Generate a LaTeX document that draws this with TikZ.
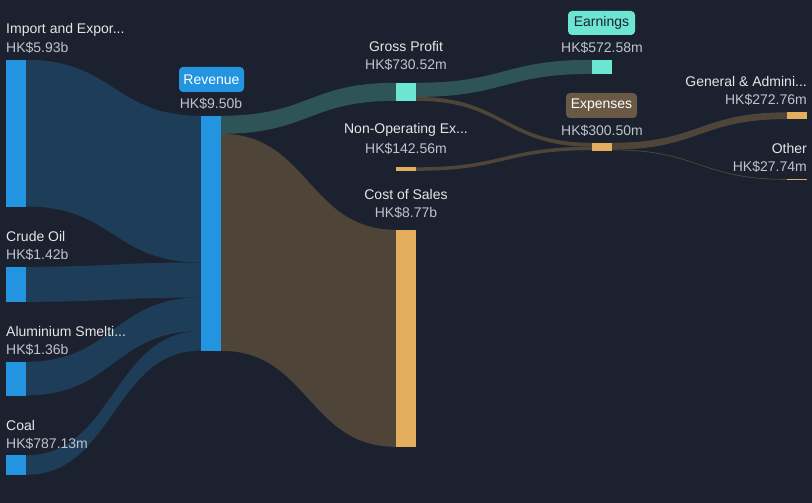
\documentclass[tikz,border=0pt]{standalone}
\usepackage{fontspec}
\setmainfont{Liberation Sans}
\usetikzlibrary{calc}
\definecolor{bg}{HTML}{1C2130}
\definecolor{bluebar}{HTML}{2394DF}
\definecolor{blueflow}{HTML}{1E3D58}
\definecolor{tealbar}{HTML}{6CE5D2}
\definecolor{tealflow}{HTML}{2E5457}
\definecolor{orangebar}{HTML}{E4AE5F}
\definecolor{brownflow}{HTML}{4E4538}
\definecolor{brownbadge}{HTML}{6A5A45}
\definecolor{lbltext}{HTML}{E6E6E6}
\definecolor{valtext}{HTML}{BFC3C9}
\newcommand\sflow[6]{%
  \fill[#6] let \p1=($(#1.north east)+(0,#2)$), \p2=($(#3.north west)+(0,#4)$) in
    (\x1,\y1) .. controls ({(\x1+\x2)/2},\y1) and ({(\x1+\x2)/2},\y2) .. (\x2,\y2)
    -- (\x2,{\y2-#5pt})
    .. controls ({(\x1+\x2)/2},{\y2-#5pt}) and ({(\x1+\x2)/2},{\y1-#5pt}) .. (\x1,{\y1-#5pt})
    -- cycle;}
\begin{document}
\begin{tikzpicture}[x=1pt,y=-1pt,
  bar/.style={rectangle,inner sep=0pt,minimum width=20pt},
  lbl/.style={inner sep=0pt,text=lbltext,font=\fontsize{14}{16}\selectfont},
  val/.style={inner sep=0pt,text=valtext,font=\fontsize{14}{16}\selectfont},
  badge/.style={rectangle,rounded corners=4pt,inner sep=0pt,font=\fontsize{14}{16}\selectfont}]
\fill[bg] (0,0) rectangle (812,503);
\useasboundingbox (0,0) rectangle (812,503);
% bars
\node[bar,fill=bluebar,minimum height=146.7pt] (imp) at (16,133.35) {};
\node[bar,fill=bluebar,minimum height=35pt] (crude) at (16,284.5) {};
\node[bar,fill=bluebar,minimum height=33.6pt] (alu) at (16,378.8) {};
\node[bar,fill=bluebar,minimum height=19.5pt] (coal) at (16,465.25) {};
\node[bar,fill=bluebar,minimum height=235pt] (rev) at (211,233.5) {};
\node[bar,fill=tealbar,minimum height=18pt] (gp) at (406,92) {};
\node[bar,fill=orangebar,minimum height=3.5pt] (nonop) at (406,169.25) {};
\node[bar,fill=orangebar,minimum height=217pt] (cos) at (406,338.5) {};
\node[bar,fill=tealbar,minimum height=14.1pt] (earn) at (602,67.05) {};
\node[bar,fill=orangebar,minimum height=7.4pt] (exp) at (602,146.7) {};
\node[bar,fill=orangebar,minimum height=6.75pt] (ga) at (797,115.9) {};
\node[bar,fill=orangebar,minimum height=0.8pt] (oth) at (797,179.6) {};
% flows
\sflow{imp}{0}{rev}{0}{146.7}{blueflow}
\sflow{crude}{0}{rev}{146.7}{35}{blueflow}
\sflow{alu}{0}{rev}{181.7}{33.6}{blueflow}
\sflow{coal}{0}{rev}{215.3}{19.5}{blueflow}
\sflow{rev}{0}{gp}{0}{18}{tealflow}
\sflow{rev}{18}{cos}{0}{217}{brownflow}
\sflow{gp}{0}{earn}{0}{14.1}{tealflow}
\sflow{gp}{14.1}{exp}{0}{3.9}{brownflow}
\sflow{nonop}{0}{exp}{3.9}{3.5}{brownflow}
\sflow{exp}{0}{ga}{0}{6.75}{brownflow}
\sflow{exp}{6.75}{oth}{0}{0.8}{brownflow}
% redraw bars on top
\foreach \n/\c in {imp/bluebar,crude/bluebar,alu/bluebar,coal/bluebar,rev/bluebar,gp/tealbar,nonop/orangebar,cos/orangebar,earn/tealbar,exp/orangebar,ga/orangebar,oth/orangebar}
  \fill[\c] (\n.north west) rectangle (\n.south east);
% labels
\node[lbl,anchor=west] (implbl) at (6,30) {Import and Expor...};
\node[val,anchor=west] (impval) at (6,48) {HK\$5.93b};
\node[lbl,anchor=west] (crudelbl) at (6,236) {Crude Oil};
\node[val,anchor=west] (crudeval) at (6,255) {HK\$1.42b};
\node[lbl,anchor=west] (alulbl) at (6,331) {Aluminium Smelti...};
\node[val,anchor=west] (aluval) at (6,350) {HK\$1.36b};
\node[lbl,anchor=west] (coallbl) at (6,425) {Coal};
\node[val,anchor=west] (coalval) at (6,444) {HK\$787.13m};
\node[badge,fill=bluebar,text=white,minimum width=65pt,minimum height=25pt] (revlbl) at (211.5,79.5) {Revenue};
\node[val] (revval) at (211,104) {HK\$9.50b};
\node[lbl] (gplbl) at (406,46) {Gross Profit};
\node[val] (gpval) at (406,65) {HK\$730.52m};
\node[lbl] (nonoplbl) at (406,130) {Non-Operating Ex...};
\node[val] (nonopval) at (406,149) {HK\$142.56m};
\node[lbl] (coslbl) at (406,194) {Cost of Sales};
\node[val] (cosval) at (406,213) {HK\$8.77b};
\node[badge,fill=tealbar,text=bg,minimum width=67pt,minimum height=24pt] (earnlbl) at (601.5,23) {Earnings};
\node[val] (earnval) at (602,48) {HK\$572.58m};
\node[badge,fill=brownbadge,text=white,minimum width=71pt,minimum height=25pt] (explbl) at (601.5,105.5) {Expenses};
\node[val] (expval) at (602,131) {HK\$300.50m};
\node[lbl,anchor=east] (galbl) at (807,81) {General \& Admini...};
\node[val,anchor=east] (gaval) at (807,100) {HK\$272.76m};
\node[lbl,anchor=east] (othlbl) at (807,148) {Other};
\node[val,anchor=east] (othval) at (807,167) {HK\$27.74m};
\end{tikzpicture}
\end{document}
